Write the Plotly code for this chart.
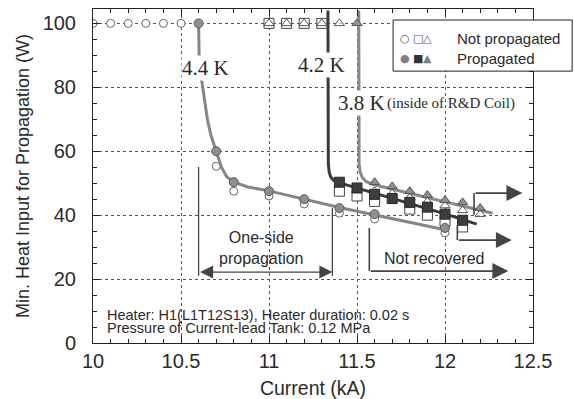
import plotly.graph_objects as go

# ---------------- data ----------------
# 4.4 K
np44_x = [10.0, 10.1, 10.2, 10.3, 10.4, 10.5, 10.7, 10.8, 11.0, 11.2, 11.4, 11.6, 12.0]
np44_y = [100, 100, 100, 100, 100, 100, 55.3, 47.5, 46.0, 43.5, 40.6, 38.8, 34.5]
p44_x = [10.6, 10.7, 10.8, 11.0, 11.2, 11.4, 11.6, 12.0]
p44_y = [100, 60, 50.3, 47.5, 45, 42.2, 40.3, 36]
# 4.2 K
np42_x = [11.0, 11.1, 11.2, 11.3, 11.4, 11.5, 11.6, 11.8, 11.9, 12.0, 12.1]
np42_y = [100, 100, 100, 100, 47.5, 46, 44.3, 41.9, 40, 38.1, 36.3]
p42_x = [11.4, 11.5, 11.6, 11.7, 11.8, 11.9, 12.0, 12.1]
p42_y = [50.3, 48.5, 46.5, 45.2, 44, 42.5, 40.3, 38.4]
# 3.8 K
np38_x = [11.0, 11.1, 11.2, 11.3, 11.4, 11.6, 11.7, 11.8, 11.9, 12.0, 12.1, 12.2]
np38_y = [100, 100, 100, 100, 100, 47.5, 46.8, 45.5, 44.2, 43, 41.5, 40.3]
p38_x = [11.5, 11.6, 11.7, 11.8, 11.9, 12.0, 12.1, 12.2]
p38_y = [100, 50.3, 49, 47.5, 46.3, 44.7, 44, 42.2]

# fitted guide curves
fit44_x = [10.60, 10.603, 10.61, 10.62, 10.635, 10.65, 10.67, 10.70, 10.73, 10.76, 10.80, 10.88, 11.0, 11.4, 12.02]
fit44_y = [100, 90, 85, 81, 75, 70, 65, 60, 55, 52, 50.3, 48.8, 47.6, 42.4, 35.2]
fit42_x = [11.335, 11.335, 11.337, 11.342, 11.35, 11.365, 11.385, 11.42, 12.0, 12.18]
fit42_y = [104, 60, 56, 53.5, 52, 51, 50.3, 49.8, 40.4, 37.2]
fit38_x = [11.51, 11.51, 11.512, 11.518, 11.53, 11.55, 11.58, 11.62, 12.0, 12.27]
fit38_y = [104, 60, 56, 53.5, 51.8, 50.6, 49.8, 49.2, 44.3, 40.6]

# annotation arrows (data coordinates)
arrow_top = dict(x=12.165, y0=40.1, y1=46.9, tip=12.44)
arrow_mid = dict(x=12.07, y0=36.9, y1=32.2, tip=12.38)
arrow_nr = dict(x=11.57, y0=36.0, y1=22.5, tip=12.36)
one_side = dict(xl=10.60, xr=11.36, yl=55.1, yr=42.2, ybot=21.0, yarr=22.2)

x_ticks = [10, 10.5, 11, 11.5, 12, 12.5]
y_ticks = [0, 20, 40, 60, 80, 100]

SANS = "Liberation Sans, Arial, sans-serif"
SERIF = "Liberation Serif, Times New Roman, serif"
TXT = "#2a2a2a"

fig = go.Figure()

# guide lines
fig.add_trace(go.Scatter(x=fit44_x, y=fit44_y, mode="lines",
                         line=dict(color="#858585", width=3), hoverinfo="skip"))
fig.add_trace(go.Scatter(x=fit42_x, y=fit42_y, mode="lines",
                         line=dict(color="#3a3a3a", width=3), hoverinfo="skip"))
fig.add_trace(go.Scatter(x=fit38_x, y=fit38_y, mode="lines",
                         line=dict(color="#8a8a8a", width=3), hoverinfo="skip"))

# not propagated (open)
fig.add_trace(go.Scatter(x=np44_x, y=np44_y, mode="markers", name="4.4 K not propagated",
                         marker=dict(symbol="circle", size=8, color="white",
                                     line=dict(color="#666", width=1))))
fig.add_trace(go.Scatter(x=np42_x, y=np42_y, mode="markers", name="4.2 K not propagated",
                         marker=dict(symbol="square", size=10, color="white",
                                     line=dict(color="#444", width=1))))
fig.add_trace(go.Scatter(x=np38_x, y=np38_y, mode="markers", name="3.8 K not propagated",
                         marker=dict(symbol="triangle-up", size=9, color="rgba(255,255,255,0.6)",
                                     line=dict(color="#555", width=1))))
# propagated (filled)
fig.add_trace(go.Scatter(x=p44_x, y=p44_y, mode="markers", name="4.4 K propagated",
                         marker=dict(symbol="circle", size=9, color="#8f8f8f",
                                     line=dict(color="#5a5a5a", width=1))))
fig.add_trace(go.Scatter(x=p42_x, y=p42_y, mode="markers", name="4.2 K propagated",
                         marker=dict(symbol="square", size=10, color="#3d3d3d",
                                     line=dict(color="#2a2a2a", width=1))))
fig.add_trace(go.Scatter(x=p38_x, y=p38_y, mode="markers", name="3.8 K propagated",
                         marker=dict(symbol="triangle-up", size=9, color="#909090",
                                     line=dict(color="#555", width=1))))

shapes = []
ann = []
ac = "#444"
# bent arrows: vertical part + horizontal arrow
for a in (arrow_top, arrow_mid, arrow_nr):
    shapes.append(dict(type="line", xref="x", yref="y", x0=a["x"], x1=a["x"],
                       y0=a["y0"], y1=a["y1"], line=dict(color=ac, width=1.6)))
    ann.append(dict(x=a["tip"], y=a["y1"], ax=a["x"], ay=a["y1"], xref="x", yref="y",
                    axref="x", ayref="y", text="", showarrow=True, arrowhead=2,
                    arrowsize=2, arrowwidth=1.6, arrowcolor=ac))
# one-side propagation
shapes.append(dict(type="line", xref="x", yref="y", x0=one_side["xl"], x1=one_side["xl"],
                   y0=one_side["yl"], y1=one_side["ybot"], line=dict(color=ac, width=1.3)))
shapes.append(dict(type="line", xref="x", yref="y", x0=one_side["xr"], x1=one_side["xr"],
                   y0=one_side["yr"], y1=one_side["ybot"], line=dict(color=ac, width=1.3)))
ann.append(dict(x=one_side["xr"], y=one_side["yarr"], ax=one_side["xl"], ay=one_side["yarr"],
                xref="x", yref="y", axref="x", ayref="y", text="", showarrow=True,
                arrowhead=2, startarrowhead=2, arrowside="end+start", arrowsize=2,
                startarrowsize=2, arrowwidth=1.3, arrowcolor=ac))

# text annotations
ann += [
    dict(x=10.642, y=86.0, text="4.4 K", showarrow=False, xref="x", yref="y",
         font=dict(family=SERIF, size=21, color=TXT), bgcolor="white", borderpad=0),
    dict(x=11.30, y=87.0, text="4.2 K", showarrow=False, xref="x", yref="y",
         font=dict(family=SERIF, size=21, color=TXT), bgcolor="white", borderpad=0),
    dict(x=11.386, y=75.1, text="3.8 K", showarrow=False, xref="x", yref="y", xanchor="left",
         font=dict(family=SERIF, size=21, color=TXT), bgcolor="white", borderpad=0),
    dict(x=11.66, y=75.1, text="(inside of R&D Coil)", showarrow=False, xref="x", yref="y",
         xanchor="left", yshift=-1, font=dict(family=SERIF, size=15, color=TXT)),
    dict(x=11.943, y=26.3, text="Not recovered", showarrow=False, xref="x", yref="y",
         font=dict(family=SANS, size=16, color=TXT)),
    dict(x=10.96, y=29.7, text="One-side<br>propagation", showarrow=False, xref="x", yref="y",
         font=dict(family=SANS, size=16, color=TXT)),
    dict(x=10.074, y=8.9, text="Heater: H1(L1T12S13), Heater duration: 0.02 s", showarrow=False,
         xref="x", yref="y", xanchor="left", borderpad=0,
         font=dict(family=SANS, size=14.5, color=TXT)),
    dict(x=10.074, y=4.6, text="Pressure of Current-lead Tank: 0.12 MPa", showarrow=False,
         xref="x", yref="y", xanchor="left", borderpad=0,
         font=dict(family=SANS, size=14.5, color=TXT)),
]

# custom legend
shapes.append(dict(type="rect", xref="paper", yref="paper", x0=0.682, x1=1.089, y0=0.814, y1=0.967,
                   fillcolor="white", line=dict(color="#222", width=1), layer="above"))
leg_rows = [(0.913, ["○", "□", "△"], "#555", "Not propagated"),
            (0.853, ["●", "■", "▲"], "#808080", "Propagated")]
leg_cols = [0.709, 0.738, 0.761]
for yy, glyphs, col, label in leg_rows:
    for xx, g in zip(leg_cols, glyphs):
        ann.append(dict(x=xx, y=yy, xref="paper", yref="paper", text=g, showarrow=False,
                        xanchor="center", yanchor="middle",
                        font=dict(family="DejaVu Sans", size=11,
                                  color="#333" if g == "■" else col)))
    ann.append(dict(x=0.823, y=yy, xref="paper", yref="paper", text=label, showarrow=False,
                    xanchor="left", yanchor="middle",
                    font=dict(family=SANS, size=15, color=TXT)))

axis_common = dict(showline=True, linecolor="#222", linewidth=1, mirror="allticks",
                   ticks="inside", ticklen=7, tickcolor="#222", showgrid=True,
                   gridcolor="#555", griddash="dot", gridwidth=1, zeroline=False,
                   automargin=False,
                   tickfont=dict(family=SANS, size=20, color=TXT))

fig.update_layout(
    width=574, height=399,
    margin=dict(l=93, r=41, t=9, b=56, autoexpand=False),
    paper_bgcolor="white", plot_bgcolor="white",
    showlegend=False,
    shapes=shapes, annotations=ann,
    xaxis=dict(range=[10, 12.5], tickvals=x_ticks, ticktext=[str(v) for v in x_ticks],
               minor=dict(ticks="inside", ticklen=4, dtick=0.1, tickcolor="#222", showgrid=False),
               title=dict(text="Current (kA)", font=dict(family=SANS, size=19.5, color=TXT), standoff=12),
               **axis_common),
    yaxis=dict(range=[0, 104.5], tickvals=y_ticks, ticktext=[str(v) for v in y_ticks],
               minor=dict(ticks="inside", ticklen=4, dtick=5, tickcolor="#222", showgrid=False),
               title=dict(text="Min. Heat Input for Propagation (W)",
                          font=dict(family=SANS, size=18, color=TXT), standoff=8),
               ticklabelstandoff=12,
               **axis_common),
)

fig.write_html("out.html", config={"displayModeBar": False},
               post_script="document.body.style.margin='0';")
